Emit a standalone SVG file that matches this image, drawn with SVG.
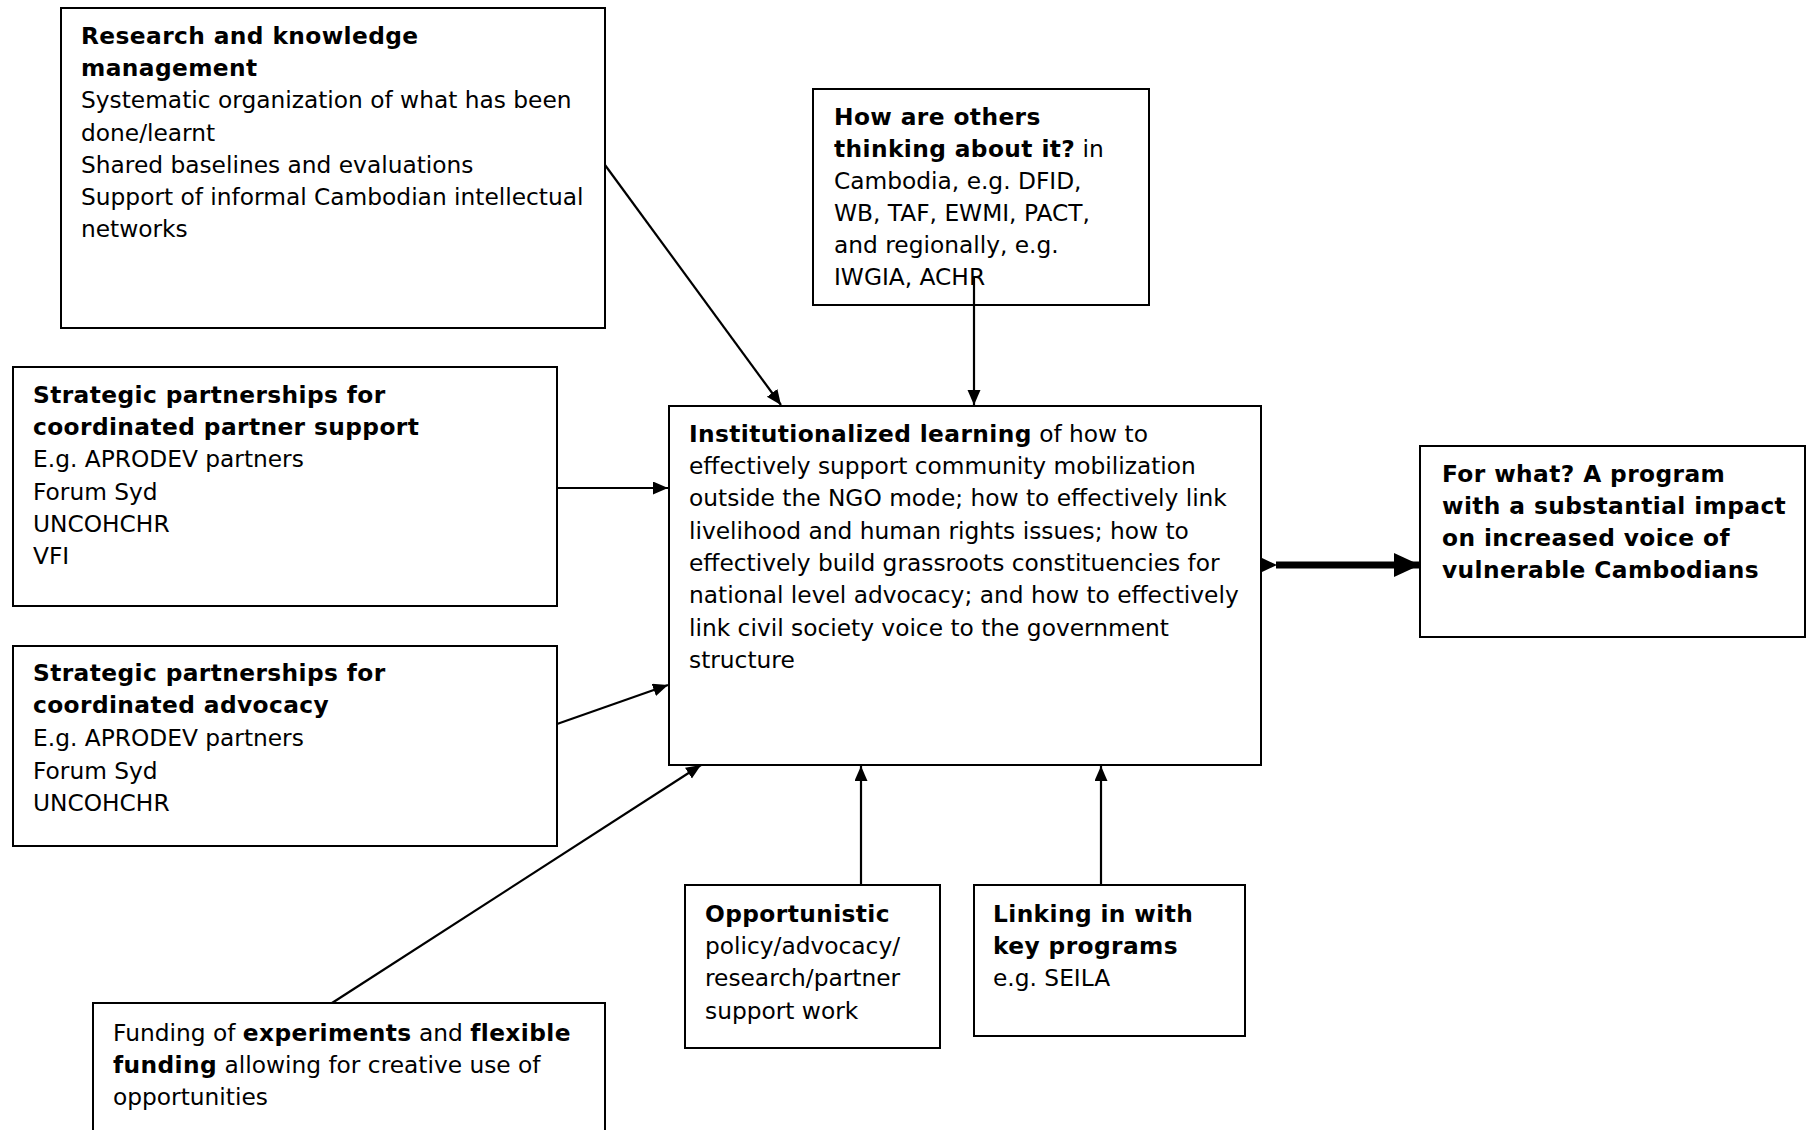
<svg xmlns="http://www.w3.org/2000/svg" width="1809" height="1130" viewBox="0 0 1809 1130">
<style>
.box{fill:#fff;stroke:#000;stroke-width:2}
text{font-family:"DejaVu Sans",Verdana,sans-serif;font-size:23.3px;fill:#000}
.b{font-weight:bold;letter-spacing:0.4px}
.c{stroke:#000;stroke-width:2.2;fill:none}
</style>
<defs>
<marker id="ah" markerUnits="userSpaceOnUse" markerWidth="16" markerHeight="14" refX="15" refY="6.5" orient="auto">
<path d="M0,0 L15,6.5 L0,13 z" fill="#000"/>
</marker>
<marker id="big" markerUnits="userSpaceOnUse" markerWidth="26" markerHeight="26" refX="26" refY="12" orient="auto">
<path d="M0,0 L26,12 L0,24 z" fill="#000"/>
</marker>
</defs>
<rect width="1809" height="1130" fill="#fff"/>

<g id="research">
<rect class="box" x="61" y="8" width="544" height="320"/>
<text x="81" y="44" class="b">Research and knowledge</text>
<text x="81" y="76" class="b">management</text>
<text x="81" y="108">Systematic organization of what has been</text>
<text x="81" y="141">done/learnt</text>
<text x="81" y="173">Shared baselines and evaluations</text>
<text x="81" y="205">Support of informal Cambodian intellectual</text>
<text x="81" y="237">networks</text>
</g>

<g id="others">
<rect class="box" x="813" y="89" width="336" height="216"/>
<text x="834" y="125" class="b">How are others</text>
<text x="834" y="157"><tspan class="b">thinking about it?</tspan> in</text>
<text x="834" y="189">Cambodia, e.g. DFID,</text>
<text x="834" y="221">WB, TAF, EWMI, PACT,</text>
<text x="834" y="253">and regionally, e.g.</text>
<text x="834" y="285">IWGIA, ACHR</text>
</g>

<g id="central">
<rect class="box" x="669" y="406" width="592" height="359"/>
<text x="689" y="442"><tspan class="b">Institutionalized learning</tspan> of how to</text>
<text x="689" y="474">effectively support community mobilization</text>
<text x="689" y="506">outside the NGO mode; how to effectively link</text>
<text x="689" y="539">livelihood and human rights issues; how to</text>
<text x="689" y="571">effectively build grassroots constituencies for</text>
<text x="689" y="603">national level advocacy; and how to effectively</text>
<text x="689" y="636">link civil society voice to the government</text>
<text x="689" y="668">structure</text>
</g>

<g id="outcome">
<rect class="box" x="1420" y="446" width="385" height="191"/>
<text x="1442" y="482" class="b">For what? A program</text>
<text x="1442" y="514" class="b">with a substantial impact</text>
<text x="1442" y="546" class="b">on increased voice of</text>
<text x="1442" y="578" class="b">vulnerable Cambodians</text>
</g>

<g id="partner-support">
<rect class="box" x="13" y="367" width="544" height="239"/>
<text x="33" y="403" class="b">Strategic partnerships for</text>
<text x="33" y="435" class="b">coordinated partner support</text>
<text x="33" y="467">E.g. APRODEV partners</text>
<text x="33" y="500">Forum Syd</text>
<text x="33" y="532">UNCOHCHR</text>
<text x="33" y="564">VFI</text>
</g>

<g id="advocacy">
<rect class="box" x="13" y="646" width="544" height="200"/>
<text x="33" y="681" class="b">Strategic partnerships for</text>
<text x="33" y="713" class="b">coordinated advocacy</text>
<text x="33" y="746">E.g. APRODEV partners</text>
<text x="33" y="779">Forum Syd</text>
<text x="33" y="811">UNCOHCHR</text>
</g>

<g id="funding">
<rect class="box" x="93" y="1003" width="512" height="140"/>
<text x="113" y="1041">Funding of <tspan class="b">experiments</tspan> and <tspan class="b">flexible</tspan></text>
<text x="113" y="1073"><tspan class="b">funding</tspan> allowing for creative use of</text>
<text x="113" y="1105">opportunities</text>
</g>

<g id="opportunistic">
<rect class="box" x="685" y="885" width="255" height="163"/>
<text x="705" y="922" class="b">Opportunistic</text>
<text x="705" y="954">policy/advocacy/</text>
<text x="705" y="986">research/partner</text>
<text x="705" y="1019">support work</text>
</g>

<g id="linking">
<rect class="box" x="974" y="885" width="271" height="151"/>
<text x="993" y="922" class="b">Linking in with</text>
<text x="993" y="954" class="b">key programs</text>
<text x="993" y="986">e.g. SEILA</text>
</g>

<g id="connectors">
<line class="c" x1="605" y1="165" x2="781" y2="405" marker-end="url(#ah)"/>
<line class="c" x1="974" y1="277" x2="974" y2="405" marker-end="url(#ah)"/>
<line class="c" x1="557" y1="488" x2="668" y2="488" marker-end="url(#ah)"/>
<line class="c" x1="557" y1="724" x2="668" y2="685" marker-end="url(#ah)"/>
<line class="c" x1="332" y1="1003" x2="701" y2="765" marker-end="url(#ah)"/>
<line class="c" x1="861" y1="885" x2="861" y2="766" marker-end="url(#ah)"/>
<line class="c" x1="1101" y1="885" x2="1101" y2="766" marker-end="url(#ah)"/>
<path d="M1262,558 L1277,565 L1262,572 z" fill="#000"/>
<line x1="1276" y1="565" x2="1420" y2="565" stroke="#000" stroke-width="7" marker-end="url(#big)"/>
</g>
</svg>
